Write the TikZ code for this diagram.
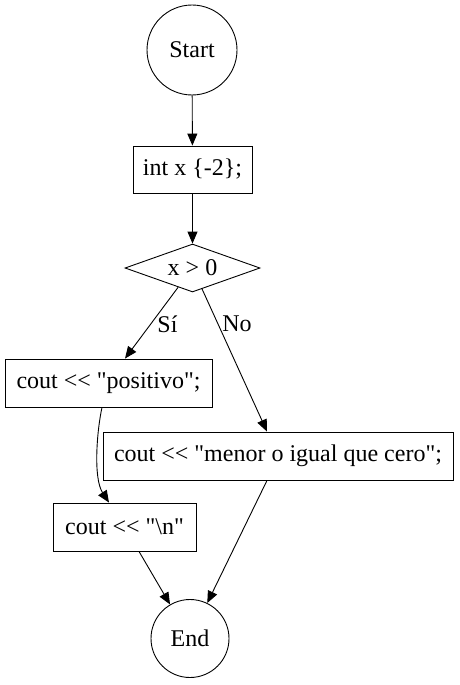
\documentclass[tikz,border=0pt]{standalone}
\usepackage{fontspec}
\setmainfont{Liberation Serif}[Ligatures=TeXOff]
\usetikzlibrary{shapes.geometric,arrows.meta,calc}
\begin{document}
\begin{tikzpicture}[x=1pt,y=-1pt,
  every node/.style={font=\fontsize{24}{28}\selectfont, inner sep=0pt},
  term/.style={circle, draw, line width=0.9pt},
  proc/.style={rectangle, draw, line width=0.9pt},
  dec/.style={diamond, draw, line width=0.9pt, minimum width=135pt, minimum height=48pt, aspect=2.8},
  arr/.style={line width=0.9pt, -{Triangle[length=12pt,width=10pt]}},
  lbl/.style={fill=none}]
\useasboundingbox (0,0) rectangle (459,685);
\node[term, minimum size=90pt] (start) at (192,50) {Start};
\node[proc, minimum width=119pt, minimum height=47pt] (init) at (192.5,169.5) {int x \{-2\};};
\node[dec] (cond) at (192.5,268) {x > 0};
\node[proc, minimum width=207pt, minimum height=48pt] (pos) at (108.5,383) {cout << "positivo";};
\node[proc, minimum width=350pt, minimum height=48pt] (neg) at (278,456) {cout << "menor o igual que cero";};
\node[proc, minimum width=143pt, minimum height=48pt] (nl) at (124.5,527) {cout << "\textbackslash n"};
\node[term, minimum size=78pt] (end) at (190,638.5) {End};

\coordinate (posin) at ($(pos.north)+(16.5,0)$);
\coordinate (negin) at ($(neg.north)+(-11,0)$);
\coordinate (negout) at ($(neg.south)+(-11,0)$);
\coordinate (nlout) at ($(nl.south)+(14.5,0)$);
\coordinate (posout) at ($(pos.south)+(-6.5,0)$);
\coordinate (nlin) at ($(nl.north)+(-15.5,0)$);

\draw[arr] (start) -- (init);
\draw[arr] (init) -- (cond);
\draw[arr] (cond) -- (posin);
\draw[arr] (cond) -- (negin);
\node[lbl] (lsi) at (167.5,324) {Sí};
\node[lbl] (lno) at (237,324) {No};
\draw[arr] (posout) .. controls (97,430) and (93,478) .. (nlin);
\draw[arr] (nlout) -- (end);
\draw[arr] (negout) -- (end);
\end{tikzpicture}
\end{document}
